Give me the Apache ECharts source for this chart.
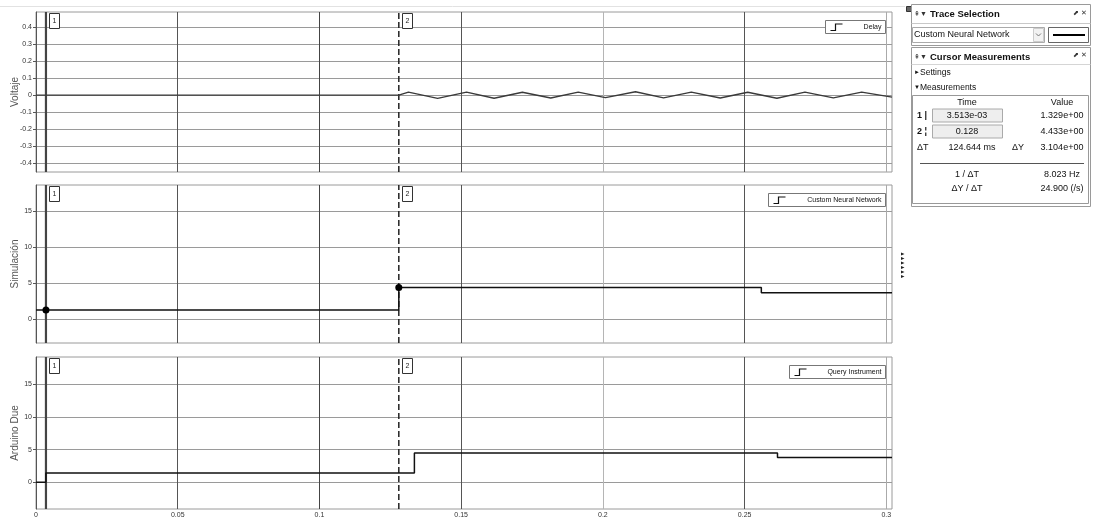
<!DOCTYPE html>
<html>
<head>
<meta charset="utf-8">
<script src="https://cdn.jsdelivr.net/npm/echarts@6/dist/echarts.min.js"></script>
<style>
  html, body { margin: 0; padding: 0; background: #fff; }
  #chart { width: 1094px; height: 520px; }
</style>
</head>
<body>
<div id="chart"></div>
<script>
// ---- axis ticks ----
const timeTicks = [0, 0.05, 0.1, 0.15, 0.2, 0.25, 0.3];
const voltTicks = [-0.4, -0.3, -0.2, -0.1, 0, 0.1, 0.2, 0.3, 0.4];
const levelTicks = [0, 5, 10, 15];

// ---- Delay trace (Voltaje) ----
const voltTime = [0, 0.128, 0.1314, 0.1417, 0.1519, 0.1616, 0.1716, 0.1816, 0.1913, 0.2009,
                  0.2115, 0.2214, 0.2312, 0.2414, 0.2511, 0.2614, 0.2713, 0.2813, 0.2913, 0.302];
const voltValue = [0, 0, 0.018, -0.019, 0.018, -0.018, 0.017, -0.017, 0.018, -0.015,
                   0.02, -0.016, 0.018, -0.017, 0.017, -0.018, 0.018, -0.016, 0.018, -0.012];

// ---- Custom Neural Network trace (Simulación) ----
const simTime = [0, 0.128, 0.2559, 0.302];
const simValue = [1.329, 4.433, 3.7, 3.7];

// ---- Query Instrument trace (Arduino Due) ----
const dueTime = [0, 0.0035, 0.1335, 0.2616, 0.302];
const dueValue = [0, 1.4, 4.5, 3.8, 3.8];

// ---- cursors ----
const cursorTime = [0.003513, 0.128];
const cursorValue = [1.329, 4.433];
const cursorNames = ['1', '2'];

const panelNames = ['Voltaje', 'Simulación', 'Arduino Due'];
const traceNames = ['Delay', 'Custom Neural Network', 'Query Instrument'];

// ---- measurement panel text ----
const measureHeader = ['Time', 'Value'];
const measureTimes = ['3.513e-03', '0.128'];
const measureValues = ['1.329e+00', '4.433e+00'];
const deltaT = '124.644 ms';
const deltaY = '3.104e+00';
const invDeltaT = '8.023 Hz';
const slope = '24.900 (/s)';

const FONT = '"Liberation Sans", Arial, sans-serif';

// layout of the three stacked plots
const gridLeft = 36, gridWidth = 856;
const gridTops = [12, 185, 357];
const gridHeights = [160, 158, 152];
const yRanges = [[-0.453, 0.49], [-3.24, 18.6], [-4.1, 19.2]];
const yTicks = [voltTicks, levelTicks, levelTicks];

const pairs = (xs, ys) => xs.map((x, i) => [x, ys[i]]);
const traces = [pairs(voltTime, voltValue), pairs(simTime, simValue), pairs(dueTime, dueValue)];

const grids = gridTops.map((top, i) => ({
  left: gridLeft, top: top, width: gridWidth, height: gridHeights[i],
  containLabel: false, outerBoundsMode: 'none',
  show: true, borderColor: '#9a9a9a', borderWidth: 1, backgroundColor: '#fff'
}));

const xAxes = gridTops.map((_, i) => ({
  type: 'value', gridIndex: i, min: 0, max: 0.302,
  axisLine: { show: false },
  axisTick: { show: false, customValues: timeTicks },
  axisLabel: {
    show: i === 2, customValues: timeTicks, fontSize: 7, color: '#333', margin: 3, fontFamily: FONT
  },
  splitLine: {
    show: true,
    lineStyle: { color: ['#555', '#555', '#444', '#555', '#b5b5b5', '#555', '#aaa'], width: 1 }
  }
}));

const yAxes = gridTops.map((_, i) => ({
  type: 'value', gridIndex: i, min: yRanges[i][0], max: yRanges[i][1],
  name: panelNames[i], nameLocation: 'middle', nameGap: 16, nameMoveOverlap: false,
  nameTextStyle: { fontSize: 10, color: '#555', fontFamily: FONT },
  axisLine: { show: true, lineStyle: { color: '#555', width: 1 } },
  axisTick: { show: true, length: 3, customValues: yTicks[i], lineStyle: { color: '#555' } },
  axisLabel: { customValues: yTicks[i], fontSize: 7, color: '#333', margin: 4, fontFamily: FONT },
  splitLine: { show: true, lineStyle: { color: '#9a9a9a', width: 1 } }
}));

const series = [];
traces.forEach((data, i) => {
  // cursor lines spanning the full panel height
  cursorTime.forEach((t, k) => {
    series.push({
      type: 'line', xAxisIndex: i, yAxisIndex: i, silent: true, animation: false,
      symbol: 'none', showSymbol: false, z: 3,
      data: [[t, yRanges[i][0]], [t, yRanges[i][1]]],
      lineStyle: k === 0
        ? { color: '#444', width: 2.2, type: 'solid' }
        : { color: '#222', width: 1.5, type: [6, 3] }
    });
  });
  series.push({
    type: 'line', name: traceNames[i], xAxisIndex: i, yAxisIndex: i, z: 4,
    data: data, step: i === 0 ? false : 'end', showSymbol: false, symbol: 'none',
    lineStyle: { color: i === 0 ? '#3a3a3a' : '#111', width: i === 0 ? 1.4 : 1.5 },
    silent: true, animation: false,
    markPoint: i === 1 ? {
      silent: true, animation: false, symbol: 'circle', symbolSize: 7,
      itemStyle: { color: '#000' }, label: { show: false },
      data: cursorTime.map((t, k) => ({ coord: [t, cursorValue[k]] }))
    } : undefined
  });
});

const chart = echarts.init(document.getElementById('chart'), null, { renderer: 'canvas' });
chart.setOption({
  backgroundColor: '#fff',
  animation: false,
  textStyle: { fontFamily: FONT },
  grid: grids, xAxis: xAxes, yAxis: yAxes, series: series
});

// ---- overlay elements: cursor tags, trace legends, side panels ----
const g = [];
const txt = (x, y, s, o = {}) => ({
  type: 'text', x: x, y: y, silent: true,
  style: Object.assign({ text: s, fontSize: 9, fontFamily: FONT, fill: '#111',
    textAlign: 'left', textVerticalAlign: 'middle' }, o)
});
const rect = (x, y, w, h, o = {}) => ({
  type: 'rect', silent: true, shape: { x: x, y: y, width: w, height: h },
  style: Object.assign({ fill: '#fff', stroke: '#999', lineWidth: 1 }, o)
});
const line = (x1, y1, x2, y2, o = {}) => ({
  type: 'line', silent: true, shape: { x1: x1, y1: y1, x2: x2, y2: y2 },
  style: Object.assign({ stroke: '#555', lineWidth: 1 }, o)
});

// faint top rule
g.push(line(0, 6.5, 905, 6.5, { stroke: '#e2e2e2' }));

gridTops.forEach((top, i) => {
  // cursor tags
  cursorTime.forEach((t, k) => {
    const px = chart.convertToPixel({ xAxisIndex: i }, t);
    g.push(rect(Math.round(px) + 3.5, top + 1.5, 10, 15, { stroke: '#333' }));
    g.push(txt(Math.round(px) + 8.5, top + 9, cursorNames[k],
      { fontSize: 7, textAlign: 'center', fill: '#222' }));
  });
  // trace legend box
  const widths = [60, 117, 96];
  const right = 885.5, lt = top + 8.5, w = widths[i];
  g.push(rect(right - w, lt, w, 13, { stroke: '#777' }));
  g.push({
    type: 'polyline', silent: true,
    shape: { points: [[right - w + 5, lt + 10], [right - w + 10, lt + 10], [right - w + 10, lt + 3.5], [right - w + 17, lt + 3.5]] },
    style: { stroke: '#111', lineWidth: 1.2, fill: null }
  });
  g.push(txt(right - 4, lt + 7, traceNames[i], { fontSize: 7, textAlign: 'right', fill: '#111' }));
});

// small toolbar icon and collapse arrows beside the plots
g.push(rect(906.5, 6.5, 6, 5, { stroke: '#333', fill: '#666' }));
[254, 258.5, 263, 267.5, 272, 276.5].forEach(y => {
  g.push({ type: 'polygon', silent: true,
    shape: { points: [[901, y - 1.6], [904.5, y], [901, y + 1.6]] },
    style: { fill: '#222' } });
});

// Trace Selection panel
g.push(rect(911.5, 4.5, 179, 41, { stroke: '#9a9a9a' }));
g.push(line(911.5, 23.5, 1090.5, 23.5, { stroke: '#c8c8c8' }));
g.push(txt(914, 14, '⇞▼', { fontSize: 7, fill: '#333' }));
g.push(txt(930, 14, 'Trace Selection', { fontSize: 9.5, fontWeight: 'bold' }));
g.push(txt(1087, 13, '⬈ ✕', { fontSize: 7, textAlign: 'right', fill: '#333' }));
g.push(rect(912.5, 27.5, 132, 15, { stroke: '#aaa' }));
g.push(txt(914, 35, 'Custom Neural Network', { fontSize: 9 }));
g.push(rect(1033.5, 28.5, 10, 13, { stroke: '#ccc', fill: '#f2f2f2' }));
g.push({ type: 'polyline', silent: true, shape: { points: [[1036, 33.5], [1038.5, 36], [1041, 33.5]] },
  style: { stroke: '#777', lineWidth: 1, fill: null } });
g.push(rect(1048.5, 27.5, 40, 15, { stroke: '#666' }));
g.push(line(1053, 35, 1085, 35, { stroke: '#000', lineWidth: 2 }));

// Cursor Measurements panel
g.push(rect(911.5, 47.5, 179, 159, { stroke: '#9a9a9a' }));
g.push(line(911.5, 64.5, 1090.5, 64.5, { stroke: '#d5d5d5' }));
g.push(txt(914, 57, '⇞▼', { fontSize: 7, fill: '#333' }));
g.push(txt(930, 57, 'Cursor Measurements', { fontSize: 9.5, fontWeight: 'bold' }));
g.push(txt(1087, 55, '⬈ ✕', { fontSize: 7, textAlign: 'right', fill: '#333' }));
g.push(txt(914, 72.5, '►', { fontSize: 6 }));
g.push(txt(920, 72.5, 'Settings', { fontSize: 8.5 }));
g.push(txt(914, 87.5, '▼', { fontSize: 6 }));
g.push(txt(920, 87.5, 'Measurements', { fontSize: 8.5 }));
g.push(rect(912.5, 95.5, 176, 108, { stroke: '#999' }));
g.push(txt(967, 102.5, measureHeader[0], { fontSize: 9, textAlign: 'center' }));
g.push(txt(1062, 102.5, measureHeader[1], { fontSize: 9, textAlign: 'center' }));
const rowY = [115.5, 131.5];
rowY.forEach((y, k) => {
  g.push(txt(917, y, cursorNames[k] + (k === 0 ? ' |' : ' ¦'), { fontSize: 9, fontWeight: 'bold' }));
  g.push(rect(932.5, y - 6.5, 70, 13, { stroke: '#aaa', fill: '#eeeeee' }));
  g.push(txt(967, y, measureTimes[k], { fontSize: 9, textAlign: 'center' }));
  g.push(txt(1062, y, measureValues[k], { fontSize: 9, textAlign: 'center' }));
});
g.push(txt(917, 147.5, 'ΔT', { fontSize: 9 }));
g.push(txt(972, 147.5, deltaT, { fontSize: 9, textAlign: 'center' }));
g.push(txt(1012, 147.5, 'ΔY', { fontSize: 9 }));
g.push(txt(1062, 147.5, deltaY, { fontSize: 9, textAlign: 'center' }));
g.push(line(920, 163.5, 1084, 163.5, { stroke: '#555' }));
g.push(txt(967, 175, '1 / ΔT', { fontSize: 9, textAlign: 'center' }));
g.push(txt(1062, 175, invDeltaT, { fontSize: 9, textAlign: 'center' }));
g.push(txt(967, 189, 'ΔY / ΔT', { fontSize: 9, textAlign: 'center' }));
g.push(txt(1062, 189, slope, { fontSize: 9, textAlign: 'center' }));

chart.setOption({ graphic: { elements: g } });
</script>
</body>
</html>
